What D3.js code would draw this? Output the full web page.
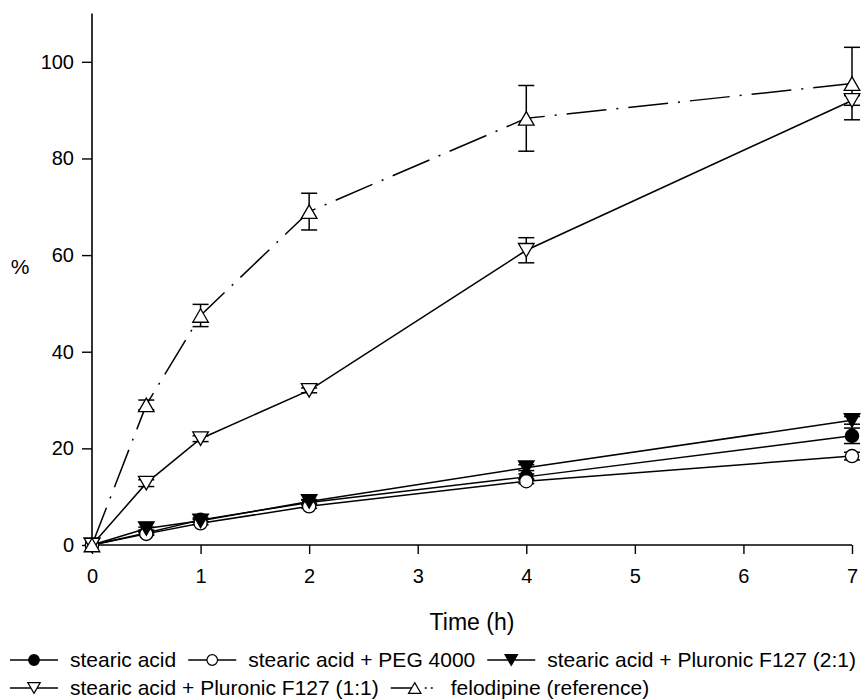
<!DOCTYPE html>
<html>
<head>
<meta charset="utf-8">
<script src="https://cdn.jsdelivr.net/npm/d3@7"></script>
<style>
  html, body { margin: 0; padding: 0; background: #fff; }
  svg { display: block; font-family: "Liberation Sans", Arial, sans-serif; }
</style>
</head>
<body>
<svg id="chart" width="865" height="700"></svg>
<script>
// ---------------- data ----------------
const times = [0, 0.5, 1, 2, 4, 7];
const xTicks = [0, 1, 2, 3, 4, 5, 6, 7];
const yTicks = [0, 20, 40, 60, 80, 100];

const stearic     = [0, 2.5, 5.2, 8.8, 14.1, 22.6];
const stearicErr  = [0, 0.3, 0.4, 0.5, 0.6, 1.6];
const peg         = [0, 2.3, 4.5, 8.0, 13.2, 18.4];
const pegErr      = [0, 0.3, 0.3, 0.4, 0.5, 0.8];
const f127_21     = [0, 3.4, 5.0, 9.0, 16.0, 25.8];
const f127_21Err  = [0, 0.3, 0.3, 0.4, 0.6, 0.8];
const f127_11     = [0, 12.8, 22.0, 32.0, 61.0, 92.0];
const f127_11Err  = [0, 0.7, 0.6, 0.5, 2.6, 1.0];
const felo        = [0, 29.0, 47.5, 69.0, 88.3, 95.5];
const feloErr     = [0, 1.0, 2.3, 3.8, 6.8, 7.5];

const seriesNames = [
  "stearic acid",
  "stearic acid + PEG 4000",
  "stearic acid + Pluronic F127 (2:1)",
  "stearic acid + Pluronic F127 (1:1)",
  "felodipine (reference)"
];
const xLabel = "Time (h)";
const yLabel = "%";

// ---------------- build ----------------
const series = [
  { name: seriesNames[0], v: stearic, e: stearicErr, sym: "circle", fill: "#000", dash: null },
  { name: seriesNames[1], v: peg,     e: pegErr,     sym: "circle", fill: "#fff", dash: null },
  { name: seriesNames[2], v: f127_21, e: f127_21Err, sym: "down",   fill: "#000", dash: null },
  { name: seriesNames[3], v: f127_11, e: f127_11Err, sym: "down",   fill: "#fff", dash: null },
  { name: seriesNames[4], v: felo,    e: feloErr,    sym: "up",     fill: "#fff", dash: "40,10,2,10" }
];

const svg = d3.select("#chart");
const x = d3.scaleLinear().domain([0, 7]).range([92, 852]);
const y = d3.scaleLinear().domain([0, 110]).range([545, 13.5]);

function symPath(type, s) {
  if (type === "circle") {
    const r = s * 0.44;
    return `M${r},0A${r},${r} 0 1,1 ${-r},0A${r},${r} 0 1,1 ${r},0Z`;
  }
  const hw = s * 0.52, hh = s * 0.45;
  if (type === "up") return `M0,${-hh}L${hw},${hh}L${-hw},${hh}Z`;
  return `M0,${hh}L${hw},${-hh}L${-hw},${-hh}Z`;
}

// axes
const xAxis = svg.append("g")
  .attr("transform", `translate(0,${y(0)})`)
  .call(d3.axisBottom(x).tickValues(xTicks).tickSize(9).tickSizeOuter(0).tickPadding(15).tickFormat(d3.format("d")));
const yAxis = svg.append("g")
  .attr("transform", `translate(${x(0)},0)`)
  .call(d3.axisLeft(y).tickValues(yTicks).tickSize(10).tickSizeOuter(0).tickPadding(8).tickFormat(d3.format("d")));
[xAxis, yAxis].forEach(g => {
  g.select(".domain").attr("stroke", "#000").attr("stroke-width", 1.6);
  g.selectAll(".tick line").attr("stroke", "#000").attr("stroke-width", 1.4);
  g.selectAll(".tick text").attr("fill", "#000").style("font-size", "20px")
    .style("font-family", "'Liberation Sans', Arial, sans-serif");
});
yAxis.select(".domain").attr("d", `M0,${y(0)}V${y(110)}`);
xAxis.select(".domain").attr("d", `M${x(0)},0H${x(7)}`);

svg.append("text").attr("x", 472).attr("y", 630).attr("text-anchor", "middle")
  .style("font-size", "23px").text(xLabel);
svg.append("text").attr("x", 20).attr("y", 274).attr("text-anchor", "middle")
  .style("font-size", "21px").text(yLabel);

const plot = svg.append("g");
const line = d3.line().x((d, i) => x(times[i])).y(d => y(d));

// lines
series.forEach(s => {
  plot.append("path").attr("d", line(s.v))
    .attr("fill", "none").attr("stroke", "#000").attr("stroke-width", 1.5)
    .attr("stroke-dasharray", s.dash);
});
// error bars
const capW = 8;
series.forEach(s => {
  s.v.forEach((v, i) => {
    const e = s.e[i];
    if (!e) return;
    const cx = x(times[i]), y1 = y(v + e), y2 = y(v - e);
    const g = plot.append("g").attr("stroke", "#000").attr("stroke-width", 1.5);
    g.append("line").attr("x1", cx).attr("x2", cx).attr("y1", y1).attr("y2", y2);
    g.append("line").attr("x1", cx - capW).attr("x2", cx + capW).attr("y1", y1).attr("y2", y1);
    g.append("line").attr("x1", cx - capW).attr("x2", cx + capW).attr("y1", y2).attr("y2", y2);
  });
});
// markers
series.forEach(s => {
  plot.selectAll(null).data(s.v).enter().append("path")
    .attr("transform", (d, i) => `translate(${x(times[i])},${y(d)})`)
    .attr("d", symPath(s.sym, 15))
    .attr("fill", s.fill).attr("stroke", "#000").attr("stroke-width", 1.3);
});

// legend
const legend = svg.append("g").style("font-size", "21px");
const rows = [[0, 1, 2], [3, 4]];
const rowY = [667, 695];
rows.forEach((r, ri) => {
  let cx = 10;
  const ly = rowY[ri] - 7;
  r.forEach(si => {
    const s = series[si];
    const symW = 48;
    legend.append("line").attr("x1", cx).attr("x2", cx + symW).attr("y1", ly).attr("y2", ly)
      .attr("stroke", "#000").attr("stroke-width", 1.5)
      .attr("stroke-dasharray", s.dash ? "24,10,2,4,2,60" : null);
    legend.append("path").attr("transform", `translate(${cx + (s.dash ? 24 : symW / 2)},${ly})`)
      .attr("d", symPath(s.sym, 12))
      .attr("fill", s.fill).attr("stroke", "#000").attr("stroke-width", 1.2);
    cx += symW + 12;
    const t = legend.append("text").attr("x", cx).attr("y", rowY[ri]).text(s.name);
    cx += t.node().getComputedTextLength() + 12;
  });
});
</script>
</body>
</html>
